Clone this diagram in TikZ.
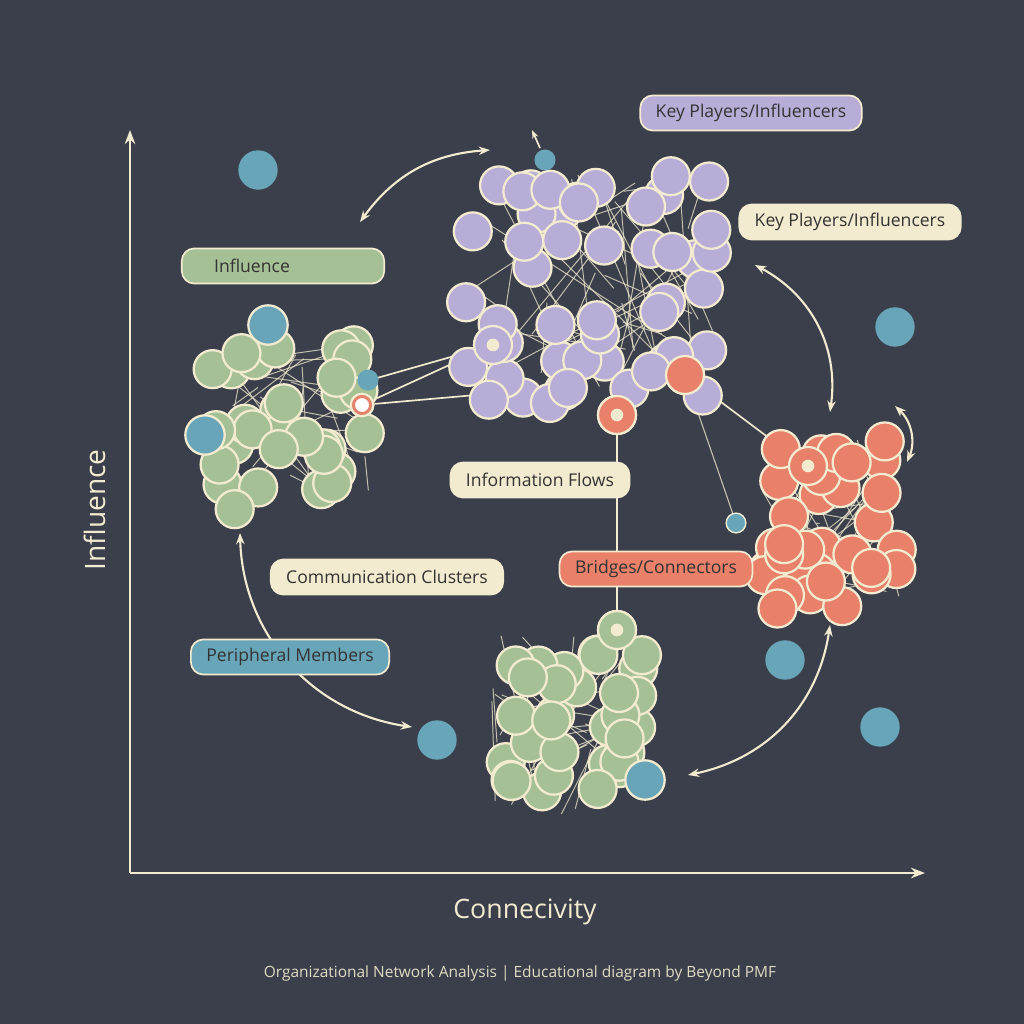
\documentclass[tikz,border=0pt]{standalone}
\usepackage{fontspec}
\setmainfont{Open Sans}
\usetikzlibrary{arrows.meta}
\definecolor{bgdark}{HTML}{3B3F4B}
\definecolor{cream}{HTML}{F2EBCF}
\definecolor{lilac}{HTML}{B8ADD6}
\definecolor{sage}{HTML}{A6C096}
\definecolor{coral}{HTML}{E8806A}
\definecolor{teal}{HTML}{68A5B8}
\tikzset{
  member/.style={circle, draw=cream, line width=1.6pt, minimum size=27pt, inner sep=0pt},
  dot/.style={circle, fill=teal, minimum size=28pt, inner sep=0pt},
  pill/.style={rounded corners=9pt, draw=cream, line width=1.2pt, minimum height=25pt, inner xsep=11pt, font=\fontsize{12.5}{14}\selectfont, text=black!80},
  link/.style={cream, line width=0.7pt, opacity=0.75},
  arrow/.style={cream, line width=1.5pt, {Stealth[length=8pt]}-{Stealth[length=8pt]}},
  flow/.style={cream, line width=1.2pt}
}
% cluster: centre x, centre y, spread x, spread y, count, colour
\newcommand\drawcluster[6]{%
  \foreach \k in {1,...,#5} {
    \pgfmathsetmacro\ax{#1+#3*rand}\pgfmathsetmacro\ay{#2+#4*rand}
    \pgfmathsetmacro\bx{#1+#3*rand}\pgfmathsetmacro\by{#2+#4*rand}
    \draw[link] (\ax,\ay) -- (\bx,\by);
  }
  \foreach \k in {1,...,#5} {
    \pgfmathsetmacro\ax{#1+#3*rand}\pgfmathsetmacro\ay{#2+#4*rand}
    \node[member, fill=#6] at (\ax,\ay) {};
  }
}
\begin{document}
\begin{tikzpicture}[x=0.025cm, y=-0.025cm]
\fill[bgdark] (0,0) rectangle (1024,1024);
\useasboundingbox (0,0) rectangle (1024,1024);
\pgfmathsetseed{11}

% axes
\coordinate (origin) at (130,873);
\coordinate (ytop) at (130,130);
\coordinate (xend) at (925,873);
\draw[cream, line width=1.6pt, -{Stealth[length=10pt]}] (origin) -- (ytop);
\draw[cream, line width=1.6pt, -{Stealth[length=10pt]}] (origin) -- (xend);
\node[rotate=90, text=cream, font=\fontsize{20}{22}\selectfont] (ylab) at (95,510) {Influence};
\node[text=cream, font=\fontsize{19}{22}\selectfont] (xlab) at (525,912) {Connecivity};
\node[text=cream!85!gray, font=\fontsize{11}{12}\selectfont] (footer) at (520,973) {Organizational Network Analysis | Educational diagram by Beyond PMF};

% connections between clusters
\node[member, fill=sage, minimum size=16pt] (gbridge) at (362,405) {};
\node[member, fill=lilac] (pbridge) at (493,345) {};
\node[member, fill=coral] (obridge) at (617,415) {};
\node[member, fill=coral] (obridge2) at (685,375) {};
\node[member, fill=sage] (sbridge) at (617,630) {};
\coordinate (pin) at (510,392);
\coordinate (gtop) at (370,380);
\coordinate (oin) at (785,450);
\coordinate (oin2) at (735,520);
\draw[flow] (gbridge) -- (pbridge);
\draw[flow] (gtop) -- (pbridge);
\draw[flow, -{Stealth[length=8pt]}] (gbridge) -- (pin);
\draw[flow] (obridge) -- (sbridge);
\draw[flow] (obridge2) -- (oin);
\draw[link, line width=0.8pt] (obridge2) -- (oin2);

% clusters
\drawcluster{590}{290}{125}{115}{48}{lilac}
\drawcluster{290}{425}{80}{85}{32}{sage}
\drawcluster{830}{525}{70}{85}{34}{coral}
\drawcluster{570}{725}{80}{90}{32}{sage}

% highlighted members
\node[member, fill=sage, minimum size=16pt] (gb) at (362,405) {};
\node[circle, fill=white, draw=coral, line width=2pt, minimum size=12pt, inner sep=0pt] at (gb) {};
\node[member, fill=lilac] (pb) at (493,345) {};
\node[circle, fill=cream, minimum size=9pt, inner sep=0pt] at (pb) {};
\node[member, fill=coral] (ob) at (617,415) {};
\node[circle, fill=cream, minimum size=9pt, inner sep=0pt] at (ob) {};
\node[member, fill=coral] (ob2) at (685,375) {};
\node[member, fill=coral] (oc) at (808,466) {};
\node[circle, fill=cream, minimum size=9pt, inner sep=0pt] at (oc) {};
\node[member, fill=sage] (sb) at (617,630) {};
\node[circle, fill=cream, minimum size=9pt, inner sep=0pt] at (sb) {};

% peripheral members
\node[dot] (p1) at (258,170) {};
\node[dot] (p2) at (895,327) {};
\node[dot] (p3) at (785,660) {};
\node[dot] (p4) at (880,727) {};
\node[dot] (p5) at (437,740) {};
\node[dot, draw=cream, line width=1.6pt] (p6) at (268,325) {};
\node[dot, draw=cream, line width=1.6pt] (p7) at (205,435) {};
\node[dot, draw=cream, line width=1.6pt] (p8) at (645,780) {};
\node[dot, draw=cream, line width=1pt, minimum size=14pt] (p9) at (736,523) {};
\node[dot, minimum size=15pt] (p10) at (545,160) {};
\node[dot, minimum size=15pt] (p11) at (368,380) {};

% curved arrows
\coordinate (a1) at (360,222); \coordinate (a2) at (490,150);
\coordinate (b1) at (755,265); \coordinate (b2) at (830,412);
\coordinate (c1) at (895,406); \coordinate (c2) at (907,462);
\coordinate (d1) at (240,533); \coordinate (d2) at (412,727);
\coordinate (e1) at (688,775); \coordinate (e2) at (830,625);
\coordinate (f1) at (540,148); \coordinate (f2) at (532,130);
\draw[arrow] (a1) to[bend left=25] (a2);
\draw[arrow] (b1) to[bend left=35] (b2);
\draw[arrow] (c1) to[bend left=35] (c2);
\draw[arrow] (d1) to[bend right=40] (d2);
\draw[arrow] (e1) to[bend right=35] (e2);
\draw[flow, -{Stealth[length=6pt]}] (f1) -- (f2);

% labels
\node[pill, fill=sage, minimum width=142pt, text width=122pt, align=left] (infl) at (283,266) {\hspace*{12pt}Influence};
\node[pill, fill=lilac] (key1) at (751,113) {Key Players/Influencers};
\node[pill, fill=cream] (key2) at (850,222) {Key Players/Influencers};
\node[pill, fill=cream] (flows) at (540,480) {Information Flows};
\node[pill, fill=cream] (clust) at (387,577) {Communication Clusters};
\node[pill, fill=coral] (bridge) at (656,569) {Bridges/Connectors};
\node[pill, fill=teal] (periph) at (290,657) {Peripheral Members};
\end{tikzpicture}
\end{document}
